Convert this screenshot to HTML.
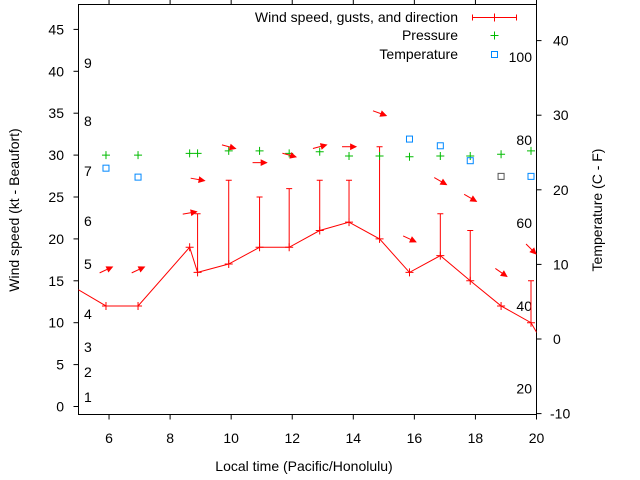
<!DOCTYPE html>
<html><head><meta charset="utf-8"><style>
html,body{margin:0;padding:0;background:#fff}
svg{display:block;font-family:"Liberation Sans",sans-serif}
</style></head><body>
<svg id="chart" width="640" height="480" viewBox="0 0 640 480" xmlns="http://www.w3.org/2000/svg">
<g id="g"></g>
</svg>
<script>
const hours=[4.5,5.9,6.95,8.64,8.9,9.92,10.93,11.9,12.9,13.86,14.86,15.84,16.85,17.83,18.84,19.82,20.3];
const windKt=[15,12,12,19,16,17,19,19,21,22,20,16,18,15,12,10,7];
const gustHours=[8.9,9.92,10.93,11.9,12.9,13.86,14.86,16.85,17.83,19.82];
const gustBase=[16,17,19,19,21,22,20,18,15,10];
const gustKt=[23,27,25,26,27,27,31,23,21,15];
const pressHours=[5.9,6.95,8.64,8.9,9.92,10.93,11.9,12.9,13.86,14.86,15.84,16.85,17.83,18.84,19.82];
const pressKt=[30,30,30.2,30.2,30.5,30.5,30.2,30.4,29.9,29.9,29.8,29.9,29.9,30.1,30.5];
const tempHours=[5.9,6.95,15.84,16.85,17.83,18.84,19.82];
const tempC=[22.9,21.7,26.8,25.9,23.9,21.8,21.8];
const arrowHours=[5.9,6.95,8.64,8.9,9.92,10.93,11.9,12.9,13.86,14.86,15.84,16.85,17.83,18.84,19.82];
const arrowKt=[16.3,16.3,23.1,27.1,31,29.1,30,31,31,35,20,26.9,24.9,16,18.8];
const arrowDeg=[-25,-25,-10,10,15,0,15,-15,0,20,25,30,30,35,45];
const xTicks=[6,8,10,12,14,16,18,20];
const yTicks=[0,5,10,15,20,25,30,35,40,45];
const y2Ticks=[-10,0,10,20,30,40];
const beaufort=[[1,397],[2,372],[3,347],[4,314],[5,264],[6,221],[7,171],[8,121],[9,63]];
const fahr=[20,40,60,80,100];

const L=78.5,R=536.5,T=4.5,B=414.5;
const X=h=>L+(h-5)*(R-L)/15;
const Y=v=>406.5-v*8.38;
const Y2=c=>339-c*7.46;
const F2C=f=>(f-32)*5/9;
const g=document.getElementById('g');
const NS='http://www.w3.org/2000/svg';
function mk(t,a,p){const e=document.createElementNS(NS,t);for(const k in a)e.setAttribute(k,a[k]);(p||g).appendChild(e);return e;}
function txt(x,y,s,anchor,extra){const e=mk('text',Object.assign({x:x,y:y,'font-size':14,fill:'#000','text-anchor':anchor||'start'},extra||{}));e.textContent=s;return e;}

// clip
const defs=mk('defs',{});const cp=mk('clipPath',{id:'c'},defs);mk('rect',{x:L,y:T,width:R-L,height:B-T},cp);

// border
const border=mk('rect',{x:L,y:T,width:R-L,height:B-T,fill:'none',stroke:'#000','stroke-width':1});



xTicks.forEach(v=>{
 const t=mk('line',{x1:X(v),x2:X(v),y1:B,y2:B+5,stroke:'#000'});
 
 
 mk('line',{x1:X(v),x2:X(v),y1:T,y2:T-5,stroke:'#000'});
 const l=txt(X(v),443,String(v),'middle');
 
 
});
yTicks.forEach(v=>{
 mk('line',{x1:L-5,x2:L,y1:Y(v),y2:Y(v),stroke:'#000'});
 const l=txt(64,Y(v)+5,String(v),'end');
 
 
});
y2Ticks.forEach(v=>{
 mk('line',{x1:R,x2:R+5,y1:Y2(v),y2:Y2(v),stroke:'#000'});
 const l=txt(v<0?550:553,Y2(v)+5,String(v),'start');
 
 
});
beaufort.forEach(b=>{
 const l=txt(84,b[1]+5,String(b[0]));
 
 
});
fahr.forEach(f=>{
 const l=txt(532,Y2(F2C(f))+5,String(f),'end');
 
 
});

const xt=txt(304,471,'Local time (Pacific/Honolulu)','middle');


const yt=txt(0,0,'Wind speed (kt - Beaufort)','middle',{transform:'translate(19,210) rotate(-90)'});


const y2t=txt(0,0,'Temperature (C - F)','middle',{transform:'translate(602,210) rotate(-90)'});



const pg=mk('g',{'clip-path':'url(#c)'});
// wind line
const pts=hours.map((h,i)=>X(h)+','+Y(windKt[i])).join(' ');
const wl=mk('polyline',{points:pts,fill:'none',stroke:'#f00','stroke-width':1},pg);


hours.forEach((h,i)=>{
 const x=X(h),y=Y(windKt[i]);
 const p=mk('path',{d:`M${x-4},${y}h8M${x},${y-4}v8`,stroke:'#f00'},pg);
 
 
});
gustHours.forEach((h,i)=>{
 const x=X(h);
 const p=mk('path',{d:`M${x},${Y(gustBase[i])}V${Y(gustKt[i])}M${x-3},${Y(gustKt[i])}h6`,stroke:'#f00'},pg);
 
 
});
pressHours.forEach((h,i)=>{
 const x=X(h),y=Y(pressKt[i]);
 const p=mk('path',{d:`M${x-4},${y}h8M${x},${y-4}v8`,stroke:'#0b0'},pg);
 
 
});
tempHours.forEach((h,i)=>{
 const x=X(h),y=Y2(tempC[i]);
 const p=mk('rect',{x:x-3,y:y-3,width:6,height:6,fill:'none',stroke:i==5?'#555':'#08f'},pg);
 
 
});
arrowHours.forEach((h,i)=>{
 const x=X(h),y=Y(arrowKt[i]);
 const a=arrowDeg[i]*Math.PI/180,len=14;
 const x0=x-len*Math.cos(a)/2,y0=y-len*Math.sin(a)/2,x1=x+len*Math.cos(a)/2,y1=y+len*Math.sin(a)/2;
 const hl=6,hw=0.45;
 const hx1=x1-hl*Math.cos(a-hw),hy1=y1-hl*Math.sin(a-hw),hx2=x1-hl*Math.cos(a+hw),hy2=y1-hl*Math.sin(a+hw);
 const ag=mk('g',{},pg);
 
 
 mk('line',{x1:x0,y1:y0,x2:x1,y2:y1,stroke:'#f00'},ag);
 mk('polygon',{points:`${x1},${y1} ${hx1},${hy1} ${hx2},${hy2}`,fill:'#f00',stroke:'#f00'},ag);
});

// legend
const lg=mk('g',{});


const l1=txt(458,22,'Wind speed, gusts, and direction','end');


mk('path',{d:'M472.5,17.5h44M472.5,14.5v6M516.5,14.5v6M494.5,13.5v8',stroke:'#f00'});
const l2=txt(458,40,'Pressure','end');


mk('path',{d:'M490.5,35.5h8M494.5,31.5v8',stroke:'#0b0'});
const l3=txt(458,59,'Temperature','end');


mk('rect',{x:491.5,y:51.5,width:6,height:6,fill:'none',stroke:'#08f'});
</script>
</body></html>
